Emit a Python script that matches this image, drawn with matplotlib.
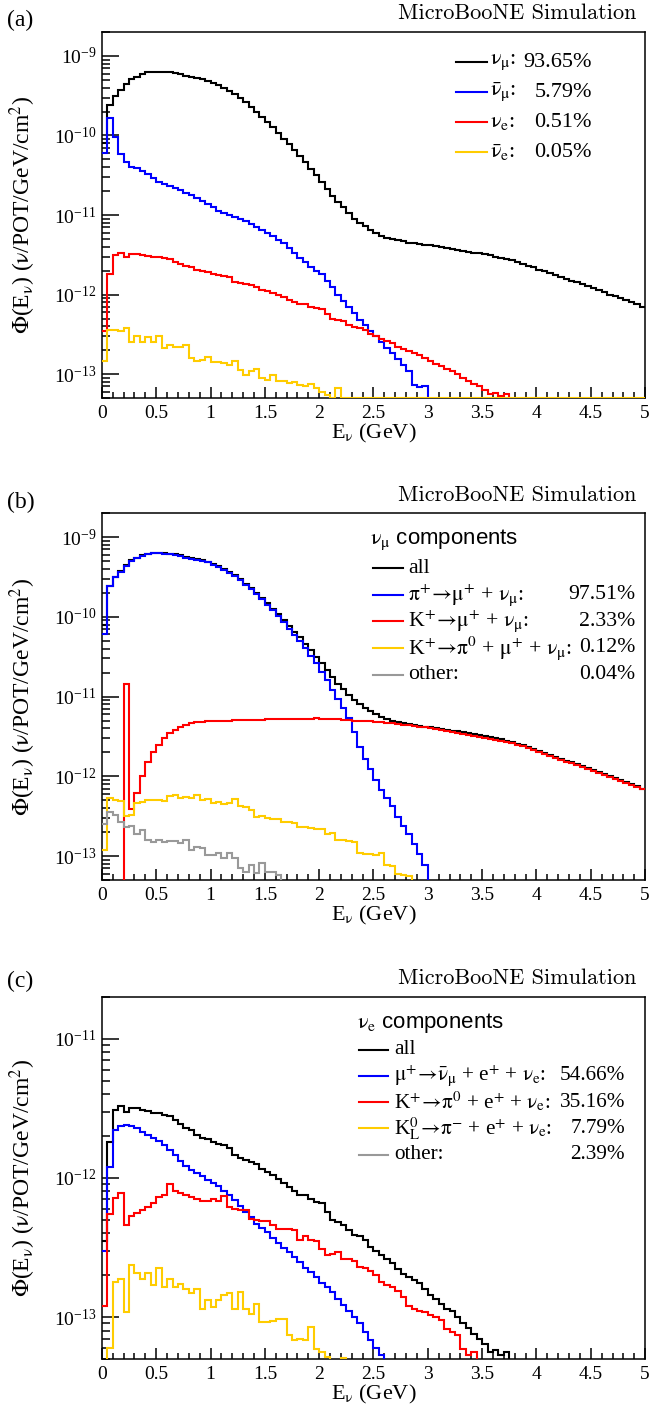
import numpy as np
import matplotlib
matplotlib.use("Agg")
import matplotlib.pyplot as plt
from matplotlib.ticker import FixedLocator, NullFormatter, MultipleLocator

# flux values, in units of 1e-12 nu/POT/GeV/cm2
# 100 bins of 0.05 GeV from 0 to 5 GeV; missing tail bins are zero (below the plot range)
UNIT = 1e-12
N_BINS = 100
E_MIN, E_MAX = 0.0, 5.0

# ---- panel (a): flux by neutrino flavour ----
numu = [80, 242, 316, 370, 450, 510, 550, 590, 620, 637,
        637, 630, 620, 605, 590, 560, 545, 530, 510, 490,
        460, 430, 400, 365, 330, 295, 260, 230, 200, 172,
        148, 126, 107, 91, 77, 65, 55, 46, 38, 31.5,
        26, 21.5, 17.5, 14.5, 12.5, 10.6, 9.0, 8.0, 7.2, 6.5,
        6.0, 5.5, 5.2, 5.0, 4.8, 4.65, 4.5, 4.4, 4.3, 4.2,
        4.15, 4.05, 3.95, 3.85, 3.75, 3.65, 3.55, 3.45, 3.35, 3.3,
        3.2, 3.1, 3.0, 2.9, 2.8, 2.7, 2.55, 2.45, 2.3, 2.2,
        2.05, 1.95, 1.85, 1.75, 1.65, 1.55, 1.5, 1.42, 1.35, 1.27,
        1.2, 1.13, 1.07, 1.0, 0.95, 0.9, 0.85, 0.8, 0.75, 0.7]
numubar = [60, 165, 95, 58, 46, 40, 39, 36, 33, 29,
           26, 24.5, 23, 22, 20.5, 19, 17.8, 16.2, 15, 13.8,
           12.5, 11.2, 10.5, 10.0, 9.5, 9.0, 8.4, 7.7, 7.1, 6.5,
           6.0, 5.4, 4.9, 4.4, 3.9, 3.3, 2.9, 2.55, 2.25, 2.0,
           1.8, 1.5, 1.25, 1.0, 0.82, 0.7, 0.58, 0.48, 0.41, 0.35,
           0.30, 0.255, 0.215, 0.185, 0.155, 0.13, 0.108, 0.073, 0.068, 0.07]
nue = [0.35, 1.8, 3.1, 3.3, 3.0, 3.2, 3.2, 3.1, 3.05, 2.95,
       2.95, 2.85, 2.8, 2.6, 2.45, 2.3, 2.2, 2.05, 1.95, 1.9,
       1.8, 1.75, 1.72, 1.65, 1.45, 1.4, 1.35, 1.3, 1.25, 1.15,
       1.1, 1.05, 0.98, 0.92, 0.86, 0.81, 0.75, 0.76, 0.7, 0.67,
       0.66, 0.57, 0.5, 0.48, 0.46, 0.42, 0.39, 0.38, 0.36, 0.32,
       0.3, 0.28, 0.26, 0.245, 0.22, 0.205, 0.195, 0.185, 0.175, 0.16,
       0.145, 0.135, 0.125, 0.115, 0.11, 0.1, 0.09, 0.083, 0.076, 0.07,
       0.064, 0.056, 0.058, 0.053, 0.056]
nuebar = [0.145, 0.36, 0.36, 0.35, 0.38, 0.25, 0.30, 0.25, 0.29, 0.25,
          0.30, 0.215, 0.23, 0.22, 0.22, 0.23, 0.16, 0.145, 0.15, 0.165,
          0.14, 0.14, 0.138, 0.13, 0.148, 0.112, 0.098, 0.11, 0.115, 0.089,
          0.085, 0.098, 0.081, 0.082, 0.077, 0.079, 0.073, 0.071, 0.074, 0.066,
          0.06, 0.054, 0.0, 0.066]

# ---- panel (b): nu_mu components ----
numu_pi = [60, 240, 313, 366, 432, 506, 545, 584, 613, 629,
           628, 621, 610, 595, 580, 550, 535, 520, 500, 480,
           450, 420, 390, 356, 321, 286, 252, 222, 193, 166,
           142, 120, 101, 85, 71, 59.5, 49.5, 40.5, 32.5, 26,
           20.5, 16, 12.2, 9.2, 7.2, 5.4, 3.6, 2.3, 1.65, 1.23,
           0.91, 0.68, 0.53, 0.42, 0.31, 0.24, 0.19, 0.14, 0.105, 0.078]
numu_k = [0, 0, 0, 0, 14.5, 0.39, 0.62, 1.0, 1.5, 2.0,
          2.45, 3.0, 3.45, 3.8, 4.15, 4.4, 4.6, 4.75, 4.85, 4.9,
          4.95, 5.0, 4.95, 5.0, 5.05, 5.1, 5.05, 5.1, 5.15, 5.1,
          5.2, 5.25, 5.2, 5.25, 5.3, 5.25, 5.3, 5.25, 5.3, 5.35,
          5.3, 5.25, 5.2, 5.2, 5.15, 5.1, 5.0, 5.0, 4.95, 4.9,
          4.85, 4.8, 4.7, 4.6, 4.55, 4.45, 4.4, 4.3, 4.2, 4.1,
          4.0, 3.9, 3.8, 3.7, 3.6, 3.5, 3.4, 3.3, 3.2, 3.15,
          3.05, 2.95, 2.85, 2.8, 2.7, 2.6, 2.5, 2.4, 2.25, 2.15,
          2.0, 1.9, 1.8, 1.7, 1.6, 1.52, 1.45, 1.38, 1.32, 1.25,
          1.17, 1.1, 1.04, 0.98, 0.93, 0.88, 0.83, 0.78, 0.74, 0.69]
numu_k3 = [0.12, 0.53, 0.5, 0.49, 0.32, 0.33, 0.46, 0.48, 0.5, 0.5,
           0.51, 0.49, 0.57, 0.59, 0.53, 0.55, 0.54, 0.59, 0.51, 0.52,
           0.46, 0.47, 0.45, 0.46, 0.52, 0.42, 0.41, 0.38, 0.31, 0.32,
           0.3, 0.29, 0.29, 0.27, 0.27, 0.26, 0.23, 0.23, 0.225, 0.22,
           0.22, 0.19, 0.195, 0.16, 0.16, 0.155, 0.15, 0.11, 0.105, 0.105,
           0.102, 0.11, 0.078, 0.075, 0.06, 0.058, 0.056]
numu_other = [0.25, 0.36, 0.33, 0.27, 0.23, 0.235, 0.19, 0.21, 0.16, 0.15,
              0.16, 0.15, 0.155, 0.155, 0.145, 0.16, 0.12, 0.13, 0.125, 0.103,
              0.103, 0.11, 0.095, 0.11, 0.095, 0.071, 0.064, 0.078, 0.061, 0.082,
              0.064, 0.064, 0.058]

# ---- panel (c): nu_e components ----
nue_mu = [0.3, 1.2, 2.2, 2.35, 2.4, 2.37, 2.28, 2.15, 2.05, 1.95,
          1.85, 1.72, 1.58, 1.45, 1.32, 1.22, 1.14, 1.08, 1.03, 0.97,
          0.92, 0.87, 0.81, 0.75, 0.69, 0.63, 0.57, 0.52, 0.47, 0.44,
          0.41, 0.37, 0.34, 0.315, 0.295, 0.27, 0.25, 0.225, 0.21, 0.195,
          0.175, 0.165, 0.152, 0.135, 0.122, 0.11, 0.1, 0.09, 0.078, 0.068,
          0.06, 0.053]
nue_k = [0.12, 0.55, 0.72, 0.78, 0.46, 0.53, 0.56, 0.59, 0.62, 0.66,
         0.73, 0.75, 0.9, 0.8, 0.78, 0.76, 0.73, 0.7, 0.68, 0.68,
         0.7, 0.68, 0.74, 0.62, 0.6, 0.59, 0.59, 0.51, 0.5, 0.49,
         0.49, 0.46, 0.43, 0.43, 0.43, 0.42, 0.36, 0.38, 0.36, 0.355,
         0.31, 0.28, 0.285, 0.295, 0.26, 0.26, 0.255, 0.23, 0.225, 0.215,
         0.2, 0.18, 0.17, 0.165, 0.155, 0.14, 0.12, 0.115, 0.11, 0.108,
         0.103, 0.1, 0.095, 0.082, 0.078, 0.074, 0.059, 0.053, 0.056]
nue_kl = [0.03, 0.06, 0.179, 0.189, 0.109, 0.237, 0.206, 0.189, 0.206, 0.17,
          0.224, 0.165, 0.189, 0.165, 0.174, 0.16, 0.148, 0.16, 0.115, 0.132,
          0.118, 0.132, 0.143, 0.148, 0.115, 0.151, 0.115, 0.106, 0.125, 0.092,
          0.092, 0.094, 0.097, 0.097, 0.074, 0.068, 0.07, 0.068, 0.085, 0.059,
          0.056, 0.052, 0.0, 0.0, 0.051]
nue_other = []  # nothing visible above the plot floor

# legend text
labels_a = [r'$\mathrm{\nu}_{\mathrm{\mu}}$:', r'$\bar{\mathrm{\nu}}_{\mathrm{\mu}}$:',
            r'$\mathrm{\nu}_{\mathrm{e}}$:', r'$\bar{\mathrm{\nu}}_{\mathrm{e}}$:']
pcts_a = ['93.65%', '5.79%', '0.51%', '0.05%']
labels_b = ['all',
            r'$\mathrm{\pi}^{+}\!\rightarrow\!\mathrm{\mu}^{+}$ + $\mathrm{\nu}_{\mathrm{\mu}}$:',
            r'K$^{+}\!\rightarrow\!\mathrm{\mu}^{+}$ + $\mathrm{\nu}_{\mathrm{\mu}}$:',
            r'K$^{+}\!\rightarrow\!\mathrm{\pi}^{0}$ + $\mathrm{\mu}^{+}$ + $\mathrm{\nu}_{\mathrm{\mu}}$:',
            'other:']
pcts_b = ['', '97.51%', '2.33%', '0.12%', '0.04%']
labels_c = ['all',
            r'$\mathrm{\mu}^{+}\!\rightarrow\!\bar{\mathrm{\nu}}_{\mathrm{\mu}}$ + e$^{+}$ + $\mathrm{\nu}_{\mathrm{e}}$:',
            r'K$^{+}\!\rightarrow\!\mathrm{\pi}^{0}$ + e$^{+}$ + $\mathrm{\nu}_{\mathrm{e}}$:',
            r'K$^{0}_{\mathrm{L}}\!\rightarrow\!\mathrm{\pi}^{-}$ + e$^{+}$ + $\mathrm{\nu}_{\mathrm{e}}$:',
            'other:']
pcts_c = ['', '54.66%', '35.16%', '7.79%', '2.39%']

BLACK, BLUE, RED, GOLD, GRAY = '#000000', '#0000ff', '#ff0000', '#ffcc00', '#999999'


def pad(v):
    v = list(v)
    assert len(v) <= N_BINS
    return np.array(v + [0.0] * (N_BINS - len(v)), dtype=float) * UNIT


plt.rcParams['font.family'] = ['Liberation Serif', 'DejaVu Serif']
plt.rcParams['mathtext.fontset'] = 'stix'
plt.rcParams['axes.linewidth'] = 1.1

edges = np.linspace(E_MIN, E_MAX, N_BINS + 1)
fig = plt.figure(figsize=(6.49, 14.09), dpi=100)

AX_LEFT, AX_W = 0.157, 0.837
panels = [
    dict(rect=[AX_LEFT, 0.7175, AX_W, 0.2598], ylim=(5e-14, 2e-9), tag='(a)', tag_y=0.9858, sim_y=0.9908,
         series=[(numu, BLACK), (numubar, BLUE), (nue, RED), (nuebar, GOLD)],
         title=None, labels=labels_a, pcts=pcts_a, fs=16,
         leg=dict(x0=0.652, x1=0.709, xt=0.714, xp=0.902, y0=0.918, dy=0.082)),
    dict(rect=[AX_LEFT, 0.3754, AX_W, 0.2605], ylim=(5e-14, 2e-9), tag='(b)', tag_y=0.6437, sim_y=0.6487,
         series=[(numu, BLACK), (numu_pi, BLUE), (numu_k, RED), (numu_k3, GOLD), (numu_other, GRAY)],
         title=r'$\mathrm{\nu}_{\mathrm{\mu}}$ components', labels=labels_b, pcts=pcts_b, fs=15.7,
         leg=dict(x0=0.499, x1=0.554, xt=0.564, xp=0.982, y0=0.850, dy=0.0725, xtitle=0.494, ytitle=0.926)),
    dict(rect=[AX_LEFT, 0.0355, AX_W, 0.257], ylim=(5e-14, 2e-11), tag='(c)', tag_y=0.3031, sim_y=0.3059,
         series=[(nue, BLACK), (nue_mu, BLUE), (nue_k, RED), (nue_kl, GOLD), (nue_other, GRAY)],
         title=r'$\mathrm{\nu}_{\mathrm{e}}$ components', labels=labels_c, pcts=pcts_c, fs=15.3,
         leg=dict(x0=0.473, x1=0.527, xt=0.538, xp=0.963, y0=0.854, dy=0.0725, xtitle=0.470, ytitle=0.928)),
]

for i, p in enumerate(panels):
    ax = fig.add_axes(p['rect'])
    ymin, ymax = p['ylim']
    for j, (vals, col) in enumerate(p['series']):
        y = pad(vals)
        if i == 0 and j == len(p['series']) - 1:
            y = np.maximum(y, ymin)  # empty bins sit on the floor, as in the original
        else:
            y = np.where(y > 0, y, ymin * 1e-3)
        ax.stairs(y, edges, color=col, lw=1.5, baseline=None, zorder=2.6)

    ax.set_yscale('log')
    ax.set_ylim(ymin, ymax)
    ax.set_xlim(E_MIN, E_MAX)
    ax.xaxis.set_major_locator(MultipleLocator(0.5))
    ax.xaxis.set_minor_locator(MultipleLocator(0.1))
    ax.xaxis.set_major_formatter(plt.FuncFormatter(lambda v, pos: f'{v:g}'))

    # only ticks inside the y range
    e_lo, e_hi = int(np.floor(np.log10(ymin))), int(np.ceil(np.log10(ymax)))
    majors = [10.0 ** e for e in range(e_lo, e_hi + 1) if ymin <= 10.0 ** e <= ymax]
    minors = [m * 10.0 ** e for e in range(e_lo, e_hi + 1) for m in range(2, 10)
              if ymin <= m * 10.0 ** e <= ymax]
    ax.yaxis.set_major_locator(FixedLocator(majors))
    ax.yaxis.set_minor_locator(FixedLocator(minors))
    ax.yaxis.set_minor_formatter(NullFormatter())

    ax.tick_params(axis='both', which='both', direction='in', top=False, right=False, width=1.1)
    ax.tick_params(axis='x', which='major', length=8, labelsize=14, pad=5)
    ax.tick_params(axis='x', which='minor', length=4.5)
    ax.tick_params(axis='y', which='major', length=12, labelsize=14, pad=4)
    ax.tick_params(axis='y', which='minor', length=6)

    ax.set_xlabel(r'E$_{\mathrm{\nu}}$ (GeV)', fontsize=16, labelpad=0)
    ax.set_ylabel(r'$\Phi$(E$_{\mathrm{\nu}}$) ($\mathrm{\nu}$/POT/GeV/cm$^{2}$)', fontsize=17)
    ax.yaxis.set_label_coords(-0.118, 0.5)

    # legend drawn by hand so the percentages line up on the right
    lg = p['leg']
    fs = p['fs']
    if p['title']:
        ax.text(lg['xtitle'], lg['ytitle'], p['title'], transform=ax.transAxes, ha='left', va='center',
                fontsize=16, family=['Liberation Sans', 'DejaVu Sans'])
    for k, ((vals, col), lab, pct) in enumerate(zip(p['series'], p['labels'], p['pcts'])):
        yy = lg['y0'] - k * lg['dy']
        ax.plot([lg['x0'], lg['x1']], [yy, yy], transform=ax.transAxes, color=col, lw=1.5, clip_on=False)
        ax.text(lg['xt'], yy, lab, transform=ax.transAxes, ha='left', va='center', fontsize=fs)
        if pct:
            ax.text(lg['xp'], yy, pct, transform=ax.transAxes, ha='right', va='center', fontsize=fs)

    fig.text(0.011, p['tag_y'], p['tag'], ha='left', va='center', fontsize=17)
    fig.text(0.981, p['sim_y'], 'MicroBooNE Simulation', ha='right', va='center', fontsize=16,
             family='cmr10')

fig.savefig('out.png', dpi=100)
